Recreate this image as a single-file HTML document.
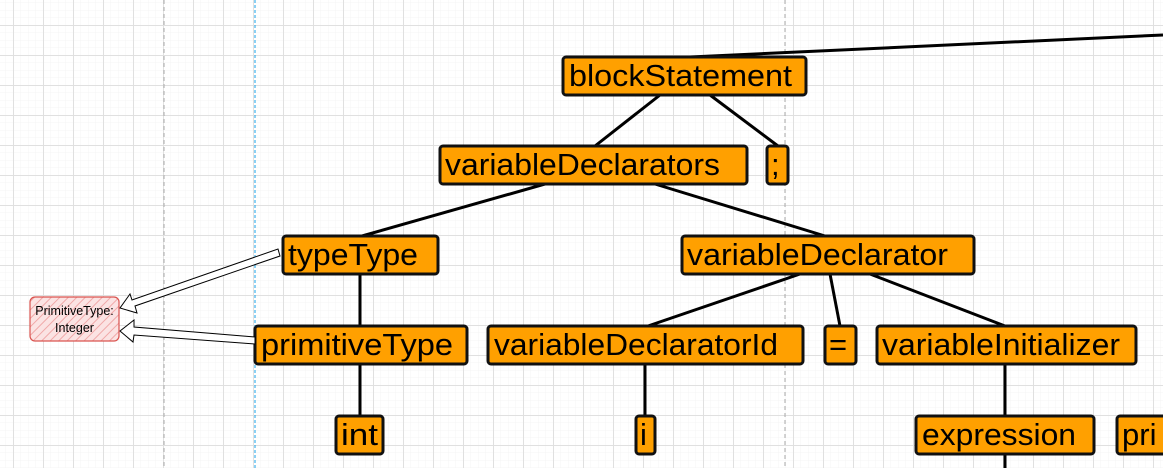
<!DOCTYPE html>
<html><head><meta charset="utf-8"><style>
html,body{margin:0;padding:0;background:#fff;}
svg{display:block;}
text{font-family:"Liberation Sans",sans-serif;}
</style></head><body>
<svg width="1163" height="468" viewBox="0 0 1163 468" xmlns="http://www.w3.org/2000/svg">
<defs>
<pattern id="minor" x="13" y="25" width="7.5" height="7.5" patternUnits="userSpaceOnUse">
<path d="M0 0H7.5M0 0V7.5" stroke="#f4f4f4" stroke-width="1" fill="none"/>
</pattern>
<pattern id="major" x="13" y="25" width="30" height="30" patternUnits="userSpaceOnUse">
<path d="M0 0.5H30M0.5 0V30" stroke="#e0e0e0" stroke-width="1" fill="none"/>
</pattern>
<pattern id="hatch" width="6" height="6" patternUnits="userSpaceOnUse" patternTransform="rotate(45)">
<rect width="6" height="6" fill="#fbe3e3"/>
<line x1="0" y1="0" x2="0" y2="6" stroke="#f0a8a8" stroke-width="2"/>
</pattern>
</defs>
<rect width="1163" height="468" fill="url(#minor)"/>
<rect width="1163" height="468" fill="url(#major)"/>
<line x1="164" y1="0" x2="164" y2="468" stroke="#aaa" stroke-dasharray="4,3"/>
<line x1="785" y1="0" x2="785" y2="468" stroke="#aaa" stroke-dasharray="4,3"/>
<line x1="255" y1="0" x2="255" y2="468" stroke="#1aa3e8" stroke-dasharray="3,2"/>

<g stroke="#000" stroke-width="3" fill="none">
<line x1="690" y1="57" x2="1163" y2="35"/>
<line x1="660" y1="95" x2="595" y2="146"/>
<line x1="710" y1="95" x2="778" y2="146"/>
<line x1="545" y1="184" x2="362" y2="236"/>
<line x1="655" y1="184" x2="825" y2="236"/>
<line x1="360" y1="274" x2="360" y2="326"/>
<line x1="800" y1="274" x2="648" y2="326"/>
<line x1="830" y1="274" x2="840" y2="326"/>
<line x1="870" y1="274" x2="1005" y2="326"/>
<line x1="360" y1="364" x2="360" y2="416"/>
<line x1="645" y1="364" x2="645" y2="416"/>
<line x1="1005" y1="364" x2="1005" y2="416"/>
<line x1="1005" y1="454" x2="1005" y2="468"/>
</g>

<g fill="#ffa000" stroke="#111" stroke-width="3">
<rect x="563" y="57" width="243" height="38" rx="3"/>
<rect x="440" y="146" width="307" height="38" rx="3"/>
<rect x="767" y="146" width="21" height="38" rx="3"/>
<rect x="283" y="236" width="155" height="38" rx="3"/>
<rect x="682" y="236" width="292" height="38" rx="3"/>
<rect x="255" y="326" width="212" height="38" rx="3"/>
<rect x="488" y="326" width="315" height="38" rx="3"/>
<rect x="825" y="326" width="31" height="38" rx="3"/>
<rect x="877" y="326" width="259" height="38" rx="3"/>
<rect x="336" y="416" width="47" height="38" rx="3"/>
<rect x="636" y="416" width="19" height="38" rx="3"/>
<rect x="916" y="416" width="178" height="38" rx="3"/>
<rect x="1117" y="416" width="60" height="38" rx="3"/>
</g>
<g font-size="31" fill="#000" lengthAdjust="spacingAndGlyphs">
<text x="569" y="86" textLength="223" lengthAdjust="spacingAndGlyphs">blockStatement</text>
<text x="445" y="175" textLength="275" lengthAdjust="spacingAndGlyphs">variableDeclarators</text>
<text x="771" y="175">;</text>
<text x="288" y="265" textLength="130" lengthAdjust="spacingAndGlyphs">typeType</text>
<text x="687" y="265" textLength="261" lengthAdjust="spacingAndGlyphs">variableDeclarator</text>
<text x="261" y="355" textLength="192" lengthAdjust="spacingAndGlyphs">primitiveType</text>
<text x="494" y="355" textLength="284" lengthAdjust="spacingAndGlyphs">variableDeclaratorId</text>
<text x="829" y="355">=</text>
<text x="882" y="355" textLength="238" lengthAdjust="spacingAndGlyphs">variableInitializer</text>
<text x="341" y="445" textLength="37" lengthAdjust="spacingAndGlyphs">int</text>
<text x="640" y="445">i</text>
<text x="922" y="445" textLength="154" lengthAdjust="spacingAndGlyphs">expression</text>
<text x="1122" y="445">pri</text>
</g>

<rect x="30" y="297" width="89" height="44" rx="5" fill="url(#hatch)" stroke="#d9534f" stroke-width="1.2"/>
<text x="74.5" y="315" font-size="12.5" text-anchor="middle">PrimitiveType:</text>
<text x="74.5" y="332" font-size="12.5" text-anchor="middle">Integer</text>

<g fill="#fff" stroke="#000" stroke-width="1">
<polygon points="278,249 280,256 135,306 137,313 120,308 130,294 132,300"/>
<polygon points="255,340 255,344 134,335 133,342 120,331 134,320 134,327 255,337"/>
</g>
</svg>
</body></html>
